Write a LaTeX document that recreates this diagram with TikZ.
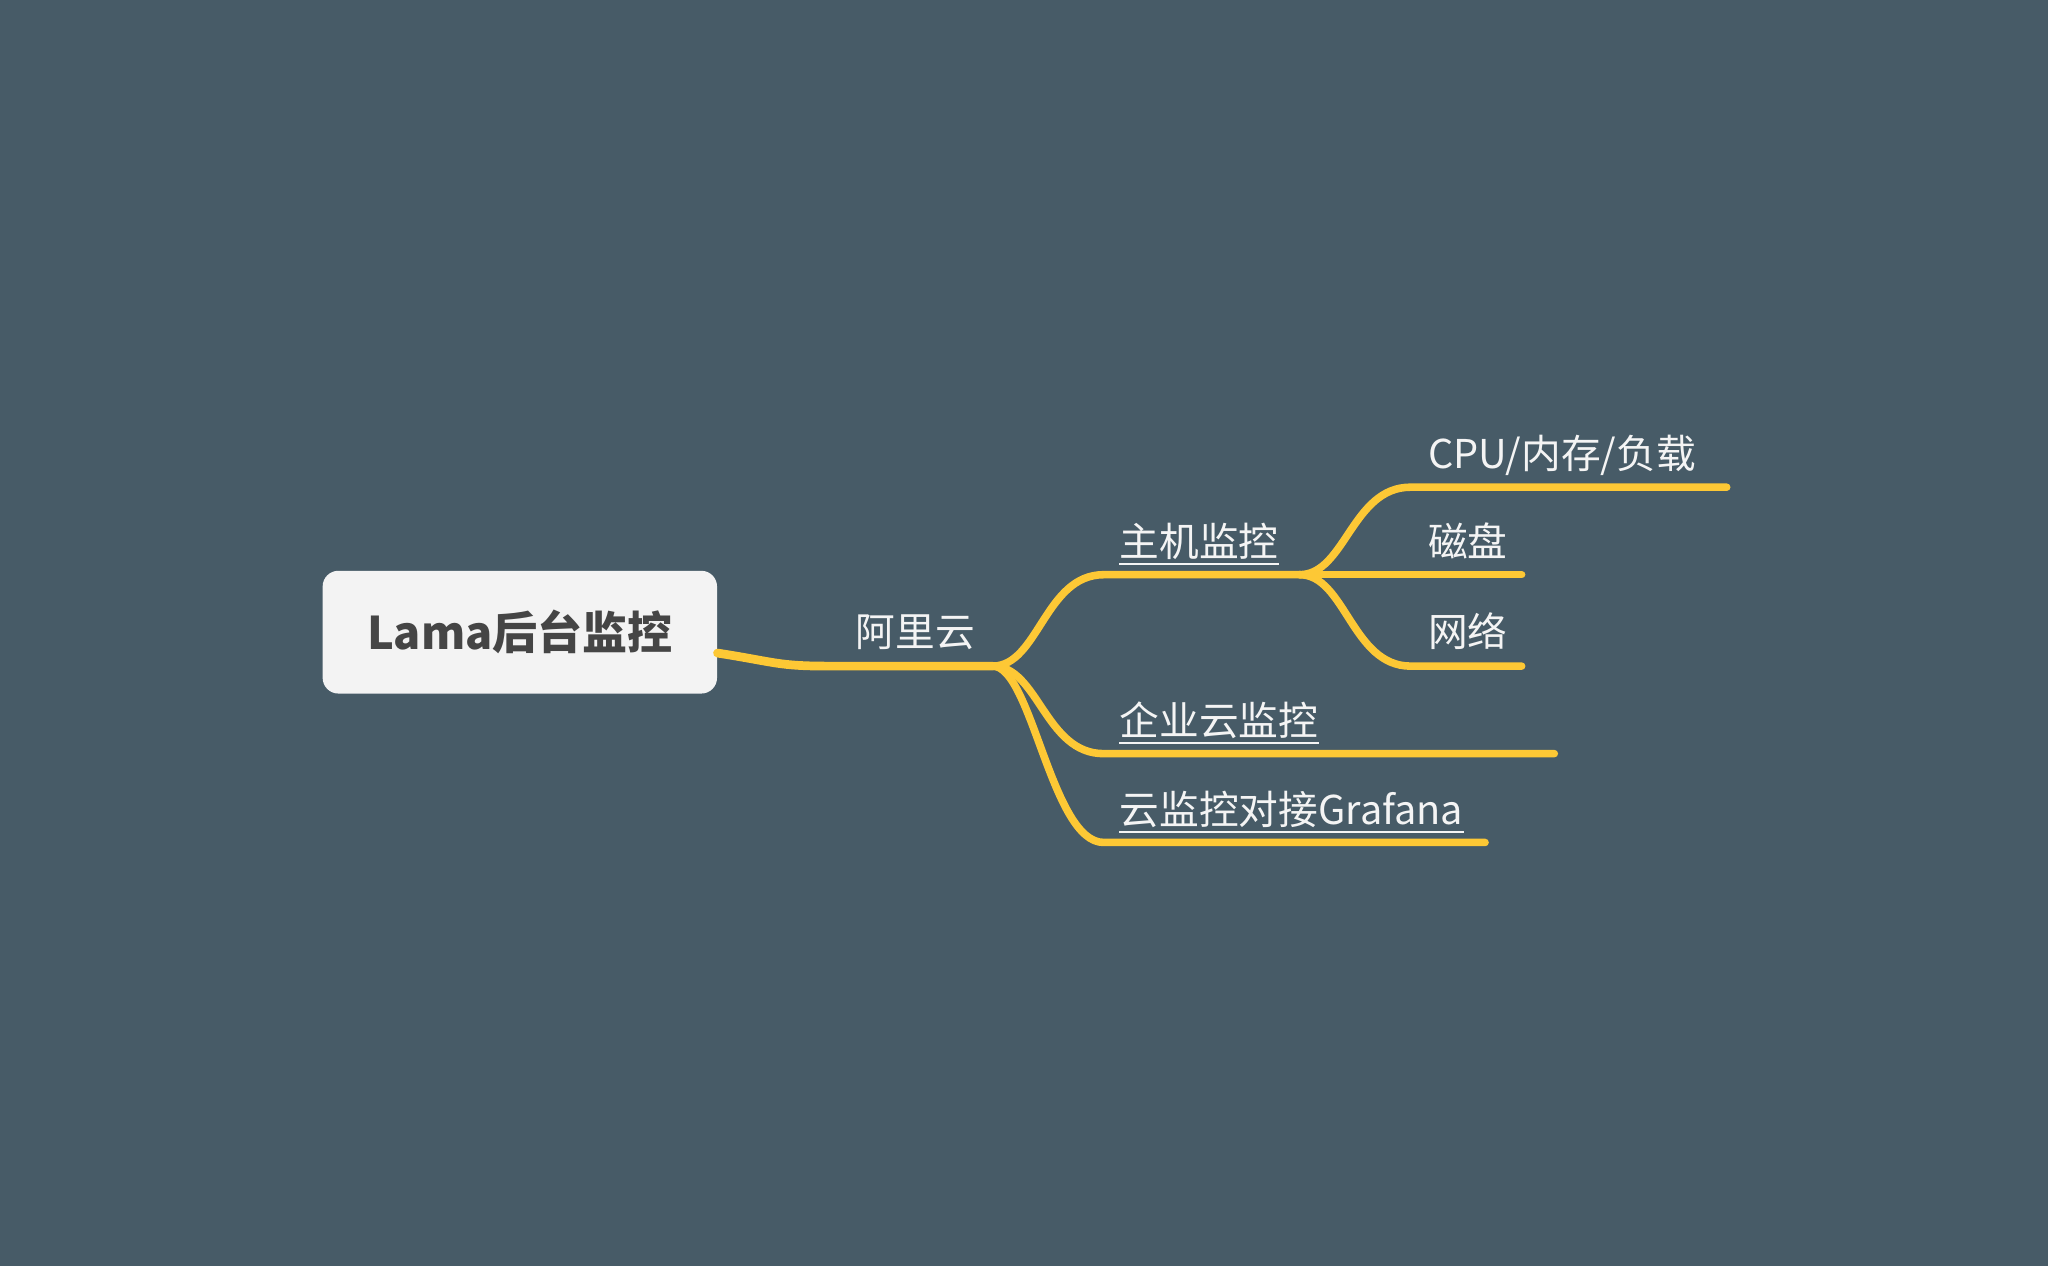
\documentclass[tikz,border=0pt]{standalone}
\usepackage{fontspec}
\setmainfont{Noto Sans CJK SC}
\definecolor{bg}{HTML}{475B67}
\definecolor{branch}{HTML}{FDC835}
\definecolor{rootfill}{HTML}{F3F3F3}
\definecolor{roottext}{HTML}{454545}
\definecolor{topictext}{HTML}{F4F4F4}
\tikzset{
  rootbox/.style={fill=rootfill, rounded corners=0.24cm, text=roottext, inner sep=0pt,
    minimum width=6.04cm, minimum height=1.88cm, font=\fontsize{19.6}{22}\selectfont\bfseries},
  topic/.style={text=topictext, inner sep=0pt, anchor=base west, font=\fontsize{17.3}{20}\selectfont},
  link/.style={branch, line width=3.3pt, line cap=round},
  stem/.style={branch, line width=3.8pt, line cap=round},
  uline/.style={topictext, line width=0.9pt},
}

\begin{document}
\begin{tikzpicture}[x=0.02cm, y=-0.02cm]
\fill[bg] (0,0) rectangle (1568,969);
% Nodes
\node[rootbox] (root) at (398,484) {Lama后台监控};
\node[topic] (aliyun) at (655,495) {阿里云};
\node[topic] (host) at (857,426) {主机监控};
\node[topic] (corp) at (857,563) {企业云监控};
\node[topic] (grafana) at (857,631) {云监控对接Grafana};
\node[topic] (cpu) at (1093,359) {CPU/内存/负载};
\node[topic] (disk) at (1093,426) {磁盘};
\node[topic] (net) at (1093,495) {网络};
% Points
\coordinate (aliyun-start) at (635,510);
\coordinate (aliyun-fork) at (760,510);
\coordinate (host-start) at (845,440);
\coordinate (host-fork) at (995,440);
\coordinate (corp-start) at (845,577);
\coordinate (corp-end) at (1190,577);
\coordinate (grafana-start) at (845,645);
\coordinate (grafana-end) at (1137,645);
\coordinate (cpu-start) at (1080,373);
\coordinate (cpu-end) at (1322,373);
\coordinate (disk-end) at (1165,440);
\coordinate (net-start) at (1080,510);
\coordinate (net-end) at (1165,510);
% Lines
\draw[stem] ([yshift=-0.32cm]root.east) .. controls +(45,7) and +(-40,0) .. (aliyun-start) -- (aliyun-fork);
\draw[link] (aliyun-fork) .. controls +(35,0) and +(-45,0) .. (host-start) -- (host-fork);
\draw[link] (aliyun-fork) .. controls +(35,0) and +(-45,0) .. (corp-start) -- (corp-end);
\draw[link] (aliyun-fork) .. controls +(30,0) and +(-40,0) .. (grafana-start) -- (grafana-end);
\draw[link] (host-fork) .. controls +(35,0) and +(-45,0) .. (cpu-start) -- (cpu-end);
\draw[link] (host-fork) -- (disk-end);
\draw[link] (host-fork) .. controls +(35,0) and +(-45,0) .. (net-start) -- (net-end);
% Underlines
\foreach \t in {host, corp, grafana}
  \draw[uline] ([yshift=-0.12cm]\t.base west) -- ([yshift=-0.12cm]\t.base east);
\end{tikzpicture}
\end{document}
